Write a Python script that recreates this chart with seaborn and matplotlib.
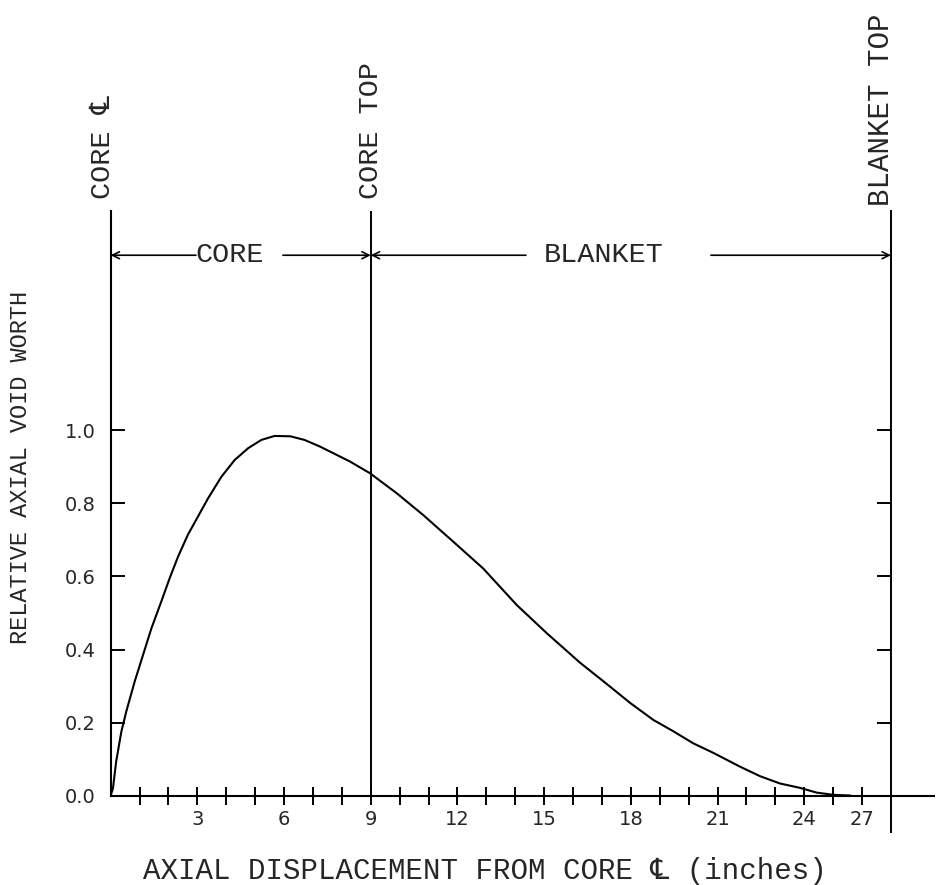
import matplotlib
matplotlib.use("Agg")
import matplotlib.pyplot as plt
import seaborn as sns
import pandas as pd

# ---- data ----
displacement_in = [0.0, 0.08, 0.19, 0.37, 0.54, 0.83, 1.12, 1.41, 1.75, 2.04, 2.33, 2.67, 3.02, 3.37,
                   3.83, 4.29, 4.75, 5.21, 5.67, 6.22, 6.71, 7.24, 8.28, 8.97, 9.9, 10.82, 11.86,
                   12.89, 14.05, 15.1, 16.24, 17.16, 17.97, 18.78, 19.47, 20.16, 20.85, 21.78,
                   22.47, 23.16, 23.85, 24.43, 25.0, 25.6]
void_worth = [0.0, 0.02, 0.093, 0.175, 0.23, 0.312, 0.385, 0.458, 0.531, 0.595, 0.654, 0.714, 0.764,
              0.814, 0.873, 0.919, 0.951, 0.974, 0.985, 0.984, 0.974, 0.956, 0.915, 0.883, 0.828,
              0.768, 0.695, 0.622, 0.522, 0.444, 0.364, 0.306, 0.254, 0.207, 0.176, 0.143, 0.117,
              0.079, 0.053, 0.033, 0.021, 0.008, 0.002, 0.0]
xtick_pos = [3, 6, 9, 12, 15, 18, 21, 24, 26]
xtick_labels = ["3", "6", "9", "12", "15", "18", "21", "24", "27"]
ytick_vals = [0.0, 0.2, 0.4, 0.6, 0.8, 1.0]
ytick_labels = ["0.0", "0.2", "0.4", "0.6", "0.8", "1.0"]
core_top = 9
blanket_top = 27

df = pd.DataFrame({"x": displacement_in, "y": void_worth})

sns.set_style("white")
MONO = ["Liberation Mono", "DejaVu Sans Mono", "DejaVu Sans", "Noto Sans CJK SC"]
plt.rcParams["font.family"] = ["DejaVu Sans"]

fig = plt.figure(figsize=(9.37, 8.85), dpi=100)
ax = fig.add_axes([0.1181, 0.1011, 0.879, 0.66])

sns.lineplot(data=df, x="x", y="y", color="black", linewidth=1.5, ax=ax, sort=True)

ax.set_xlim(0, 28.5)
ax.set_ylim(0, 1.6)

# spines
for s in ["top", "right"]:
    ax.spines[s].set_visible(False)
for s in ["left", "bottom"]:
    ax.spines[s].set_color("black")
    ax.spines[s].set_linewidth(1.5)

# x ticks
ax.set_xticks(xtick_pos)
ax.set_xticklabels(xtick_labels, fontsize=14)
ax.set_xticks([v for v in range(1, 27) if v not in xtick_pos], minor=True)
ax.tick_params(axis="x", which="both", bottom=True, direction="inout", length=13,
               width=1.4, color="black")
ax.tick_params(axis="x", which="major", pad=4)

# y ticks
ax.set_yticks(ytick_vals)
ax.set_yticklabels(ytick_labels, fontsize=14)
ax.tick_params(axis="y", left=True, direction="in", length=10, width=1.4, color="black", pad=11)

# vertical reference line at core top
ax.axvline(core_top, ymin=0, ymax=1, color="black", linewidth=1.4)

# right axis at blanket top
ax2 = ax.twinx()
ax2.set_ylim(0, 1.6)
for s in ["top", "left", "bottom"]:
    ax2.spines[s].set_visible(False)
ax2.spines["right"].set_position(("data", blanket_top))
ax2.spines["right"].set_bounds(-0.1, 1.6)
ax2.spines["right"].set_linewidth(1.4)
ax2.spines["right"].set_color("black")
ax2.set_yticks(ytick_vals[1:])
ax2.set_yticklabels([])
ax2.tick_params(axis="y", right=True, direction="in", length=10, width=1.4, color="black")

# labels
ax.set_xlabel("AXIAL DISPLACEMENT FROM CORE \u2104 (inches)", family=MONO, fontsize=21)
ax.xaxis.set_label_coords(0.4544, -0.105)
ax.set_ylabel("RELATIVE AXIAL VOID WORTH", family=MONO, fontsize=17)
ax.yaxis.set_label_coords(-0.096, 0.5625)

# top vertical labels
ax.text(-0.27, 1.635, "CORE \u2104", rotation=90, ha="center", va="bottom", family=MONO,
        fontsize=20.5, clip_on=False)
ax.text(core_top, 1.635, "CORE TOP", rotation=90, ha="center", va="bottom", family=MONO,
        fontsize=20.5, clip_on=False)
ax.text(26.65, 1.615, "BLANKET TOP", rotation=90, ha="center", va="bottom", family=MONO,
        fontsize=21, clip_on=False)

# region arrows
arr_y = 1.48
ap = dict(arrowstyle="->,head_length=0.5,head_width=0.25", color="black", lw=1.2,
          shrinkA=0, shrinkB=0)
ax.annotate("", xy=(0, arr_y), xytext=(2.95, arr_y), arrowprops=ap, annotation_clip=False)
ax.annotate("", xy=(core_top, arr_y), xytext=(5.96, arr_y), arrowprops=ap, annotation_clip=False)
ax.annotate("", xy=(core_top, arr_y), xytext=(14.37, arr_y), arrowprops=ap, annotation_clip=False)
ax.annotate("", xy=(blanket_top, arr_y), xytext=(20.77, arr_y), arrowprops=ap, annotation_clip=False)
ax.text(4.13, arr_y, "CORE", ha="center", va="center", family=MONO, fontsize=20.5)
ax.text(17.06, arr_y, "BLANKET", ha="center", va="center", family=MONO, fontsize=20.5)

fig.savefig("out.png", dpi=100)
